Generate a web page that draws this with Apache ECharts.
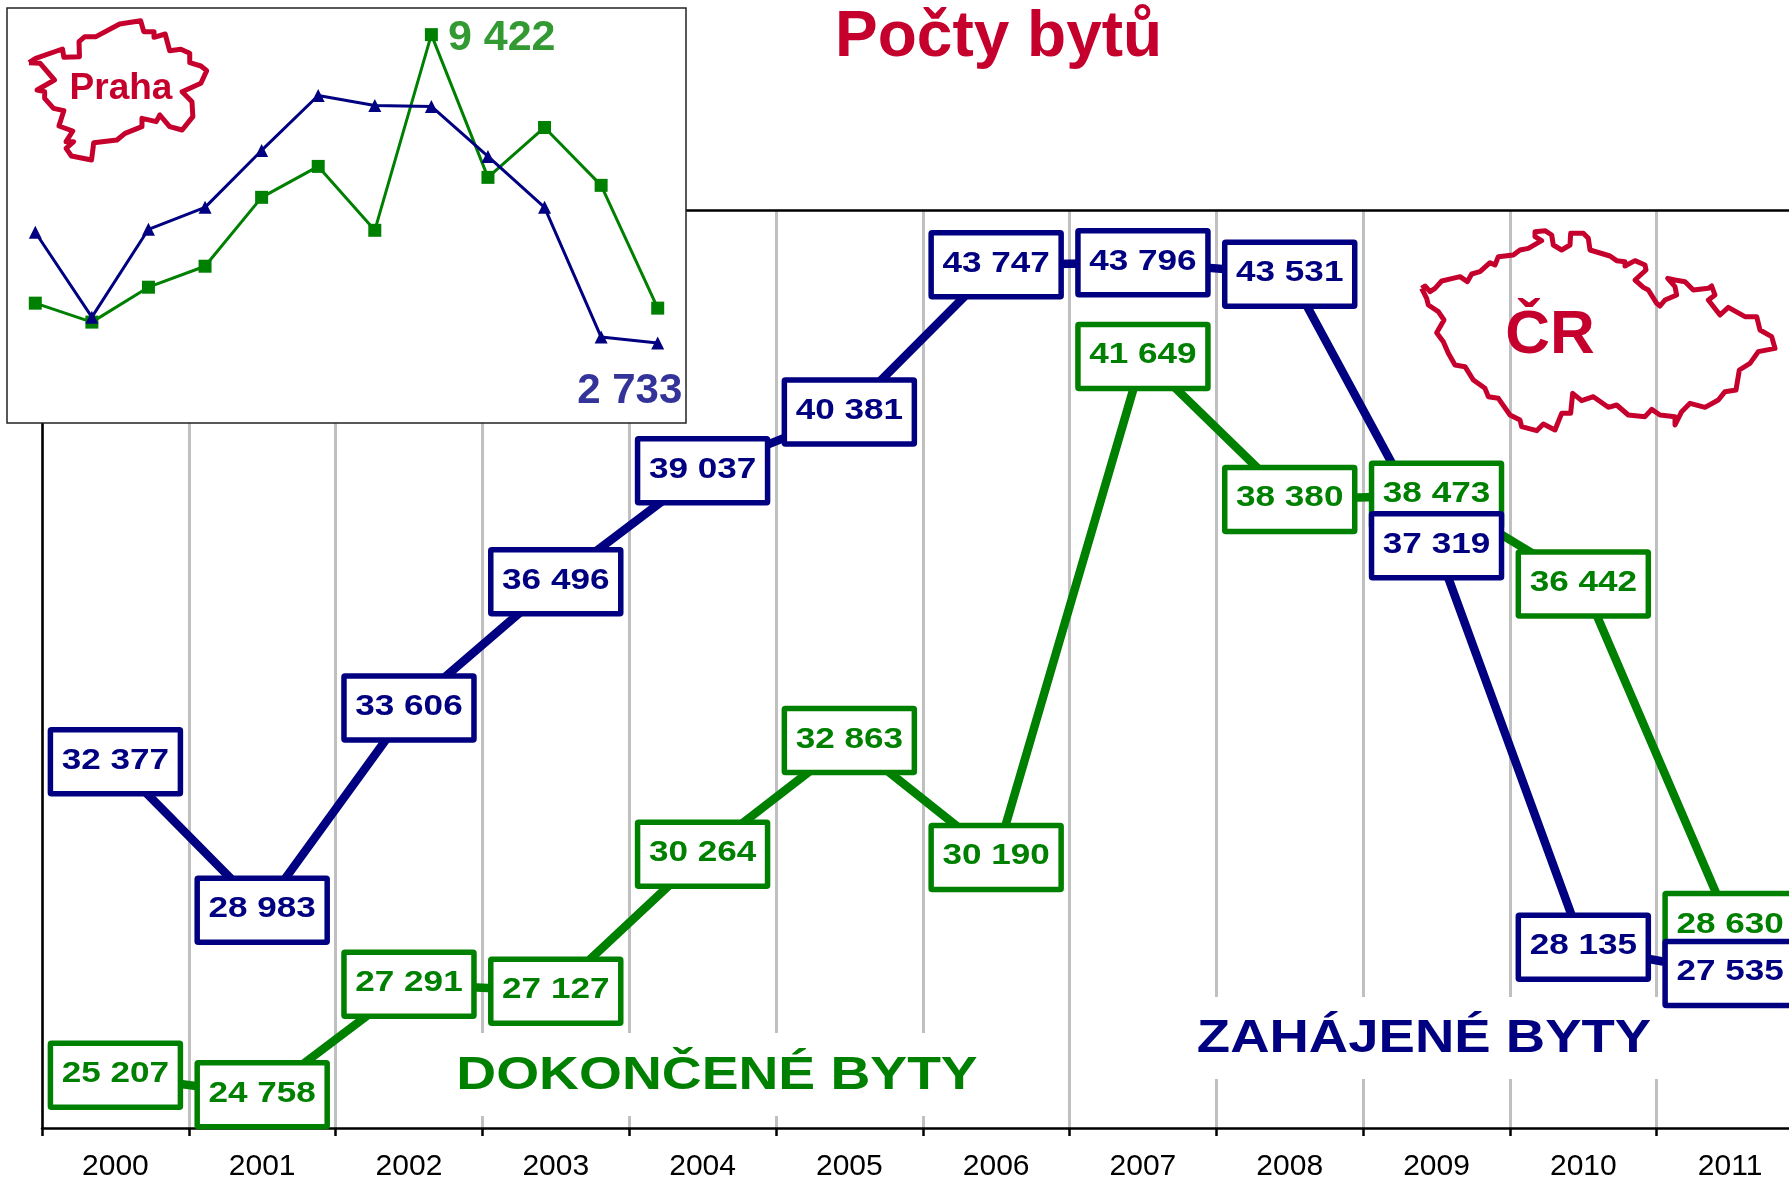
<!DOCTYPE html>
<html>
<head>
<meta charset="utf-8">
<title>Počty bytů</title>
<script src="https://cdn.jsdelivr.net/npm/echarts@6/dist/echarts.min.js"></script>
<style>
  html, body { margin: 0; padding: 0; background: #fff; }
  #main { width: 1789px; height: 1179px; }
</style>
</head>
<body>
<div id="main"></div>
<script>
const years = ['2000', '2001', '2002', '2003', '2004', '2005', '2006', '2007', '2008', '2009', '2010', '2011'];
// CR
const started = [32377, 28983, 33606, 36496, 39037, 40381, 43747, 43796, 43531, 37319, 28135, 27535];
const completed = [25207, 24758, 27291, 27127, 30264, 32863, 30190, 41649, 38380, 38473, 36442, 28630];
const pragueStarted = [5136, 3296, 5201, 5677, 6911, 8102, 7886, 7864, 6782, 5677, 2863, 2733];
const pragueCompleted = [3599, 3188, 3945, 4400, 5894, 6565, 5179, 9422, 6327, 7409, 6154, 3491];

// outlines
const crOutline = [[125,265],[135,258],[150,275],[165,265],[185,243],[215,236],[240,230],[262,245],[275,222],[300,215],[330,188],[345,195],[355,170],[400,165],[420,150],[445,145],[485,122],[465,110],[465,95],[495,92],[515,105],[520,135],[545,150],[570,135],[572,100],[610,100],[625,115],[630,150],[690,168],[710,182],[735,185],[735,198],[765,182],[795,195],[798,210],[765,240],[790,262],[805,270],[830,310],[840,318],[855,300],[890,285],[885,260],[863,235],[885,240],[915,245],[940,270],[985,265],[995,258],[1005,285],[985,300],[1020,345],[1045,322],[1095,350],[1130,350],[1140,390],[1175,410],[1185,445],[1135,455],[1110,490],[1078,510],[1068,570],[1035,575],[1015,600],[975,622],[930,610],[905,635],[885,675],[885,650],[840,645],[815,628],[795,650],[745,645],[710,615],[685,622],[640,590],[605,602],[578,580],[572,640],[545,640],[525,690],[490,672],[470,692],[425,680],[420,660],[390,645],[355,595],[325,590],[315,565],[280,540],[255,500],[225,495],[205,460],[190,425],[170,398],[192,360],[175,335],[145,315],[140,295],[125,265]];
const prahaOutline = [[65,188],[80,175],[140,147],[143,172],[178,170],[177,125],[190,110],[215,110],[268,72],[315,62],[322,95],[345,95],[345,112],[370,102],[380,152],[405,148],[425,160],[425,188],[450,198],[463,212],[450,250],[408,275],[430,305],[432,350],[408,390],[380,380],[358,345],[350,365],[318,355],[318,380],[280,400],[262,420],[210,428],[205,480],[160,468],[148,445],[165,425],[148,425],[163,393],[132,378],[143,332],[120,325],[100,295],[100,275],[83,270],[122,240],[90,190],[65,188]];

const NAVY = '#000080';
const GREEN = '#008000';
const RED = '#c5002d';
const FONT = '"Liberation Sans", Arial, sans-serif';

function fmt(v) {
  return String(v).replace(/\B(?=(\d{3})+$)/g, ' ');
}

// box with the value, the reference text is stretched sideways so scaleX is used
function boxRenderer(color) {
  return function (params, api) {
    const c = api.coord([api.value(0), api.value(1)]);
    return {
      type: 'group',
      children: [
        {
          type: 'rect',
          shape: { x: c[0] - 65, y: c[1] - 32, width: 130, height: 64, r: 1 },
          style: { fill: '#fff', stroke: color, lineWidth: 5.5 }
        },
        {
          type: 'text',
          x: c[0],
          y: c[1] - 1,
          scaleX: 1.21,
          style: {
            text: fmt(api.value(1)),
            fill: color,
            fontFamily: FONT,
            fontWeight: 'bold',
            fontSize: 29,
            align: 'center',
            verticalAlign: 'middle'
          }
        }
      ]
    };
  };
}

function lineSeries(values, color) {
  return {
    type: 'line',
    data: values,
    xAxisIndex: 0,
    yAxisIndex: 0,
    symbol: 'none',
    z: 2,
    lineStyle: { color: color, width: 8.5, cap: 'butt' }
  };
}

function boxSeries(values, color, z) {
  return {
    type: 'custom',
    xAxisIndex: 0,
    yAxisIndex: 0,
    data: values.map((v, i) => [i, v]),
    encode: { x: 0, y: 1 },
    z: z,
    renderItem: boxRenderer(color)
  };
}

function seriesName(text, cx, cy, stretch, color, bandLeft, bandTop, bandWidth, bandHeight) {
  return [
    {
      type: 'rect',
      z: 1,
      shape: { x: bandLeft, y: bandTop, width: bandWidth, height: bandHeight },
      style: { fill: '#fff' }
    },
    {
      type: 'text',
      z: 4,
      x: cx,
      y: cy,
      scaleX: stretch,
      style: { text: text, fill: color, fontFamily: FONT, fontWeight: 'bold', fontSize: 46, align: 'center', verticalAlign: 'middle' }
    }
  ];
}

const chart = echarts.init(document.getElementById('main'));
chart.setOption({
  animation: false,
  backgroundColor: '#fff',
  title: {
    text: 'Počty bytů',
    left: 830,
    top: 1,
    textStyle: { color: RED, fontFamily: FONT, fontWeight: 'bold', fontSize: 64 }
  },
  grid: [
    { left: 42, top: 210, width: 1761.5, height: 918, containLabel: false, outerBoundsMode: 'none' },
    { left: 7, top: 8, width: 679, height: 415, show: true, z: 3, outerBoundsMode: 'none', backgroundColor: '#fff', borderColor: '#222', borderWidth: 1.5 }
  ],
  xAxis: [
    {
      type: 'category',
      gridIndex: 0,
      data: years,
      axisLine: { lineStyle: { color: '#000', width: 2.5 } },
      axisTick: { show: true, length: 8, lineStyle: { color: '#000', width: 2.5 } },
      axisLabel: { color: '#000', fontFamily: FONT, fontSize: 30, margin: 24, interval: 0 },
      splitLine: { show: true, interval: 0, lineStyle: { color: '#c0c0c0', width: 3 } }
    },
    {
      type: 'category',
      gridIndex: 0,
      position: 'top',
      data: years,
      axisLine: { lineStyle: { color: '#000', width: 2.5 } },
      axisTick: { show: false },
      axisLabel: { show: false }
    },
    { type: 'category', gridIndex: 1, data: years, show: false }
  ],
  yAxis: [
    {
      type: 'value',
      gridIndex: 0,
      min: 24000,
      max: 45000,
      axisLine: { show: true, lineStyle: { color: '#000', width: 2.5 } },
      axisTick: { show: false },
      axisLabel: { show: false },
      splitLine: { show: false }
    },
    { type: 'value', gridIndex: 1, min: 1000, max: 10000, show: false, splitLine: { show: false } }
  ],
  series: [
    lineSeries(completed, GREEN),
    lineSeries(started, NAVY),
    boxSeries(completed, GREEN, 3),
    boxSeries(started, NAVY, 4),
    {
      type: 'line',
      xAxisIndex: 2,
      yAxisIndex: 1,
      z: 6,
      symbol: 'rect',
      symbolSize: 13,
      showAllSymbol: true,
      lineStyle: { color: GREEN, width: 3 },
      itemStyle: { color: GREEN },
      data: pragueCompleted.map((v, i) => i === 7 ? {
        value: v,
        label: {
          show: true,
          position: 'right',
          distance: 10,
          offset: [0, 3],
          formatter: fmt(v),
          color: '#339933',
          fontFamily: FONT,
          fontWeight: 'bold',
          fontSize: 43
        }
      } : v)
    },
    {
      type: 'line',
      xAxisIndex: 2,
      yAxisIndex: 1,
      z: 7,
      symbol: 'triangle',
      symbolSize: 13,
      showAllSymbol: true,
      lineStyle: { color: NAVY, width: 3 },
      itemStyle: { color: NAVY },
      data: pragueStarted.map((v, i) => i === 11 ? {
        value: v,
        label: {
          show: true,
          position: 'bottom',
          distance: 21,
          offset: [-28, 0],
          formatter: fmt(v),
          color: '#333399',
          fontFamily: FONT,
          fontWeight: 'bold',
          fontSize: 42
        }
      } : v)
    }
  ],
  graphic: [
    ...seriesName('DOKONČENÉ BYTY', 717, 1076, 1.2, GREEN, 450, 1033, 535, 83),
    ...seriesName('ZAHÁJENÉ BYTY', 1424, 1039, 1.185, NAVY, 1190, 997, 470, 82),
    {
      type: 'polyline',
      z: 4,
      shape: { points: crOutline.map(p => [1380 + p[0] / 3, 200 + p[1] / 3]) },
      style: { fill: 'none', stroke: RED, lineWidth: 5, lineJoin: 'round' }
    },
    {
      type: 'text',
      z: 4,
      x: 1550,
      y: 336,
      style: { text: 'ČR', fill: RED, fontFamily: FONT, fontWeight: 'bold', fontSize: 62, align: 'center', verticalAlign: 'middle' }
    },
    {
      type: 'polyline',
      z: 8,
      shape: { points: prahaOutline.map(p => [p[0] / 2.24, p[1] / 3]) },
      style: { fill: 'none', stroke: RED, lineWidth: 5, lineJoin: 'round' }
    },
    {
      type: 'text',
      z: 8,
      x: 121,
      y: 89,
      style: { text: 'Praha', fill: RED, fontFamily: FONT, fontWeight: 'bold', fontSize: 37, align: 'center', verticalAlign: 'middle' }
    }
  ]
});
</script>
</body>
</html>
